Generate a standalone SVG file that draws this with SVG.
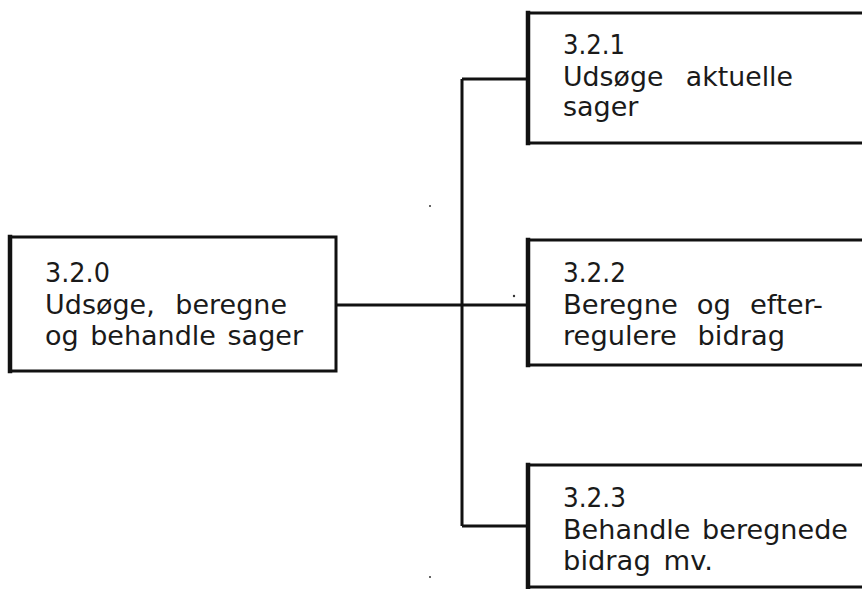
<svg xmlns="http://www.w3.org/2000/svg" width="862" height="589" viewBox="0 0 862 589">
<style>
.box{fill:#fff;stroke:#111;stroke-width:3}
.edge{stroke:#111;stroke-width:4.5;stroke-linecap:square}
.t{font-family:"DejaVu Sans","Noto Sans",sans-serif;font-size:27px;fill:#1a1a1a}
.con{fill:none;stroke:#111;stroke-width:3}
.speck{fill:#333}
</style>
<g id="connectors">
<line class="con" x1="462" y1="79" x2="462" y2="526"/>
<line class="con" x1="462" y1="79" x2="528" y2="79"/>
<line class="con" x1="336" y1="305" x2="528" y2="305"/>
<line class="con" x1="462" y1="526" x2="528" y2="526"/>
</g>
<g id="n320">
<rect class="box" x="10" y="237" width="326" height="134"/>
<line class="edge" x1="10" y1="237" x2="10" y2="371"/>
<text class="t" x="45" y="282" textLength="65" lengthAdjust="spacingAndGlyphs">3.2.0</text>
<text class="t" x="45" y="314" word-spacing="12" textLength="242" lengthAdjust="spacingAndGlyphs">Udsøge, beregne</text>
<text class="t" x="45" y="345" word-spacing="3" textLength="258" lengthAdjust="spacingAndGlyphs">og behandle sager</text>
</g>
<g id="n321">
<rect class="box" x="528" y="13" width="360" height="130"/>
<line class="edge" x1="528" y1="13" x2="528" y2="143"/>
<text class="t" x="563" y="54" textLength="62" lengthAdjust="spacingAndGlyphs">3.2.1</text>
<text class="t" x="563" y="86" word-spacing="14" textLength="230" lengthAdjust="spacingAndGlyphs">Udsøge aktuelle</text>
<text class="t" x="563" y="116">sager</text>
</g>
<g id="n322">
<rect class="box" x="528" y="240" width="360" height="125"/>
<line class="edge" x1="528" y1="240" x2="528" y2="365"/>
<text class="t" x="563" y="282" textLength="63" lengthAdjust="spacingAndGlyphs">3.2.2</text>
<text class="t" x="563" y="314" word-spacing="10" textLength="260" lengthAdjust="spacingAndGlyphs">Beregne og efter-</text>
<text class="t" x="563" y="345" word-spacing="12" textLength="222" lengthAdjust="spacingAndGlyphs">regulere bidrag</text>
</g>
<g id="n323">
<rect class="box" x="528" y="465" width="360" height="122"/>
<line class="edge" x1="528" y1="465" x2="528" y2="589"/>
<text class="t" x="563" y="507" textLength="63" lengthAdjust="spacingAndGlyphs">3.2.3</text>
<text class="t" x="563" y="539" word-spacing="3" textLength="285" lengthAdjust="spacingAndGlyphs">Behandle beregnede</text>
<text class="t" x="563" y="570" word-spacing="4" textLength="150" lengthAdjust="spacingAndGlyphs">bidrag mv.</text>
</g>
<g id="specks">
<circle class="speck" cx="430" cy="206" r="1"/>
<circle class="speck" cx="514" cy="296" r="1.2"/>
<circle class="speck" cx="430" cy="577" r="1"/>
</g>
</svg>
